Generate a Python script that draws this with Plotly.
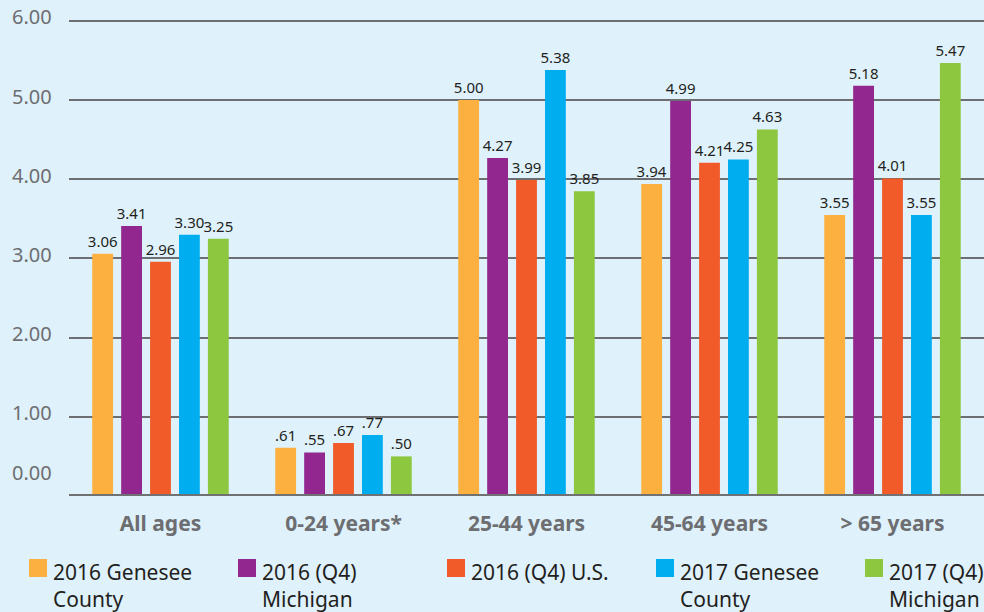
import plotly.graph_objects as go

# rates per age group
age_groups = ["All ages", "0-24 years*", "25-44 years", "45-64 years", "> 65 years"]
series_names = [
    "2016 Genesee<br>County",
    "2016 (Q4)<br>Michigan",
    "2016 (Q4) U.S.",
    "2017 Genesee<br>County",
    "2017 (Q4)<br>Michigan",
]
genesee_2016 = [3.06, 0.61, 5.00, 3.94, 3.55]
michigan_2016 = [3.41, 0.55, 4.27, 4.99, 5.18]
us_2016 = [2.96, 0.67, 3.99, 4.21, 4.01]
genesee_2017 = [3.30, 0.77, 5.38, 4.25, 3.55]
michigan_2017 = [3.25, 0.50, 3.85, 4.63, 5.47]
y_ticks = [0, 1, 2, 3, 4, 5, 6]

colors = ["#fbb040", "#92278f", "#f15a29", "#00aeef", "#8dc63f"]
bg = "#dff1fb"
gray = "#6d6e71"
dark = "#231f20"


def fmt(v):
    s = f"{v:.2f}"
    return s[1:] if v < 1 else s


fig = go.Figure()
all_series = [genesee_2016, michigan_2016, us_2016, genesee_2017, michigan_2017]
for name, vals, c in zip(series_names, all_series, colors):
    fig.add_trace(go.Bar(
        x=age_groups,
        y=vals,
        name=name,
        marker=dict(color=c, line=dict(width=0)),
        text=[fmt(v) for v in vals],
        textposition="outside",
        constraintext="none",
        textfont=dict(family="Noto Sans", size=15, color=dark),
        cliponaxis=False,
        showlegend=False,
    ))

# plot area in pixels (for placing the hand-made legend)
W, H = 984, 612
ml, mr, mt, mb = 69, 0, 13, 116
pw, ph = W - ml - mr, H - mt - mb


def px_x(px):
    return (px - ml) / pw


def px_y(py):
    return (H - mb - py) / ph


shapes = [
    # thick baseline
    dict(type="line", xref="paper", yref="y", x0=0, x1=1, y0=0, y1=0,
         line=dict(color="#707173", width=4), layer="above"),
]
annotations = []

# y labels sit a little above their gridlines
for t in y_ticks:
    annotations.append(dict(
        x=0, xref="paper", y=t, yref="y", xanchor="right", yanchor="middle",
        xshift=-15, yshift=24 if t == 0 else 4, showarrow=False,
        text=f"{t:.2f}", font=dict(family="Noto Sans", size=20, color=gray),
    ))

# legend along the bottom
for i, (name, c) in enumerate(zip(series_names, colors)):
    x0 = 29 + 209 * i
    shapes.append(dict(
        type="rect", xref="paper", yref="paper",
        x0=px_x(x0), x1=px_x(x0 + 18), y0=px_y(577), y1=px_y(559),
        fillcolor=c, line=dict(width=0),
    ))
    annotations.append(dict(
        x=px_x(x0 + 22), xref="paper", y=px_y(556), yref="paper",
        xanchor="left", yanchor="top", align="left", showarrow=False,
        text=name, font=dict(family="Noto Sans", size=21, color=dark),
    ))

fig.update_layout(
    width=W, height=H,
    margin=dict(l=ml, r=mr, t=mt, b=mb),
    paper_bgcolor=bg, plot_bgcolor=bg,
    barmode="group", bargap=0.21, bargroupgap=0.28,
    showlegend=False,
    shapes=shapes,
    annotations=annotations,
    xaxis=dict(
        showgrid=False, showline=False, zeroline=False, ticks="",
        ticklabelstandoff=13,
        tickfont=dict(family="Noto Sans", size=21, color=gray, weight="bold"),
    ),
    yaxis=dict(
        range=[0, 6.1], tickvals=y_ticks, showticklabels=False,
        showgrid=True, gridcolor=gray, gridwidth=1.5, zeroline=False,
    ),
)

# drop the default page margin so the figure fills the window
fig.write_html(
    "out.html",
    config={"displayModeBar": False},
    post_script="document.body.style.margin='0';",
)
